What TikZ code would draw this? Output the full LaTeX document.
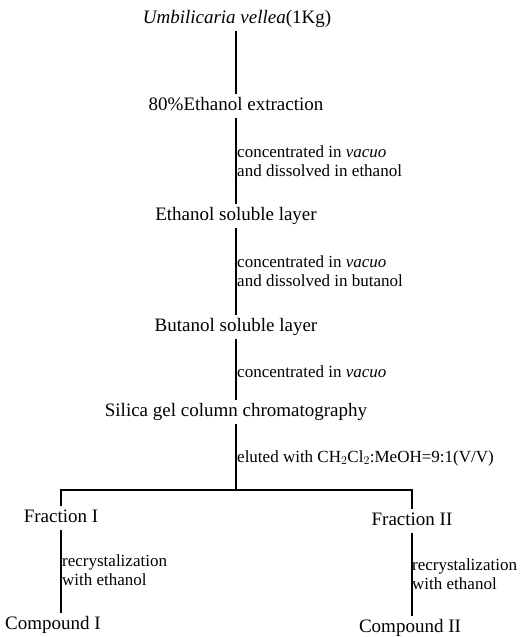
\documentclass[tikz,border=0pt]{standalone}
\usepackage{fontspec}
\setmainfont{Liberation Serif}
\begin{document}
\begin{tikzpicture}[x=1pt,y=-1pt,
  stepnode/.style={inner xsep=0pt,inner ysep=3pt,text height=13pt,text depth=4.5pt,font=\fontsize{19}{21}\selectfont},
  note/.style={anchor=west,inner xsep=1pt,inner ysep=0pt,align=left,font=\fontsize{17}{18.5}\selectfont},
  link/.style={line width=1.5pt}]
\useasboundingbox (0,0) rectangle (529,637);
\node[stepnode] (t) at (237,19) {\textit{Umbilicaria vellea}(1Kg)};
\node[stepnode] (e) at (236,106) {80\%Ethanol extraction};
\node[stepnode] (s) at (236,216) {Ethanol soluble layer};
\node[stepnode] (b) at (236,327) {Butanol soluble layer};
\node[stepnode] (c) at (236,412) {Silica gel column chromatography};
\coordinate (split) at (236,490);
\node[stepnode] (f1) at (61,518) {Fraction I};
\node[stepnode] (f2) at (412,521) {Fraction II};
\node[stepnode] (c1) at (53,625) {Compound I};
\node[stepnode] (c2) at (410,628) {Compound II};
\draw[link] (t.south -| e.north) -- (e.north);
\draw[link] (e.south) -- (s.north);
\draw[link] (s.south) -- (b.north);
\draw[link] (b.south) -- (c.north);
\draw[link] (c.south) -- (split);
\draw[link] (f1.north) |- (split) -| (f2.north);
\draw[link] (f1.south) -- (f1.south |- c1.north);
\draw[link] (f2.south) -- (f2.south |- c2.north);
\node[note] (l1) at (236,161) {concentrated in \textit{vacuo}\\and dissolved in ethanol};
\node[note] (l2) at (236,271) {concentrated in \textit{vacuo}\\and dissolved in butanol};
\node[note] (l3) at (236,372) {concentrated in \textit{vacuo}};
\node[note] (l4) at (236,458) {eluted with CH$_2$Cl$_2$:MeOH=9:1(V/V)};
\node[note] (l5) at (61,570) {recrystalization\\with ethanol};
\node[note] (l6) at (411,574) {recrystalization\\with ethanol};
\end{tikzpicture}
\end{document}
